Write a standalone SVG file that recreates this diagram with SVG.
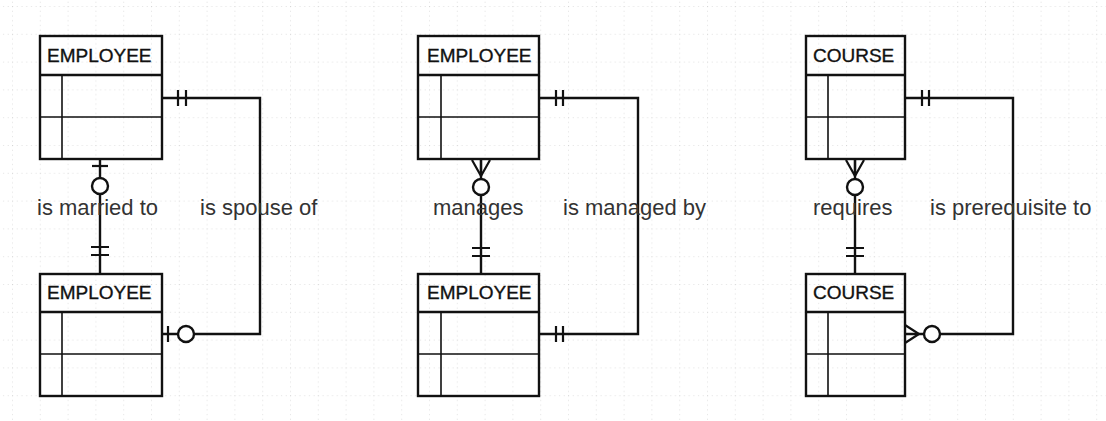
<svg xmlns="http://www.w3.org/2000/svg" width="1106" height="421" viewBox="0 0 1106 421">
<defs>
<pattern id="grid" x="12" y="6" width="27.8" height="27.8" patternUnits="userSpaceOnUse">
<path d="M0 0H27.8M0 0V27.8" fill="none" stroke="#b8b8b8" stroke-width="0.7" stroke-dasharray="1.2 3.5"/>
</pattern>
<style>
.box{fill:none;stroke:#111;stroke-width:2.4}
.ln{fill:none;stroke:#111;stroke-width:1.6}
.cn{fill:none;stroke:#111;stroke-width:2.4}
.mk{fill:none;stroke:#111;stroke-width:2.2}
.ci{fill:#fff;stroke:#111;stroke-width:2.4}
.hd{font-family:"Liberation Sans",Arial,sans-serif;font-size:19px;fill:#111;stroke:#111;stroke-width:0.35}
.lb{font-family:"Liberation Sans",Arial,sans-serif;font-size:22px;fill:#333}
</style>
</defs>
<rect width="1106" height="421" fill="#fff"/>
<rect width="1106" height="421" fill="url(#grid)"/>

<g id="connectors">
<!-- left group -->
<path class="cn" d="M162 98H260V334H162"/>
<path class="mk" d="M178 90V106M186 90V106"/>
<path class="mk" d="M168 326V342"/>
<circle class="ci" cx="186" cy="334" r="8"/>
<path class="cn" d="M100 159V274"/>
<path class="mk" d="M92 166H108"/>
<circle class="ci" cx="100" cy="186" r="8"/>
<path class="mk" d="M91 247H109M91 255H109"/>

<!-- middle group -->
<path class="cn" d="M539 98H638V334H539"/>
<path class="mk" d="M556 90V106M563 90V106"/>
<path class="mk" d="M556 326V342M563 326V342"/>
<path class="cn" d="M481 159V275"/>
<path class="mk" d="M472 160L481 176L490 160M481 160V176"/>
<circle class="ci" cx="481" cy="187" r="8"/>
<path class="mk" d="M472 248H490M472 256H490"/>

<!-- right group -->
<path class="cn" d="M905 98H1013V334H905"/>
<path class="mk" d="M922 90V106M929 90V106"/>
<path class="mk" d="M905 325L919 334L905 343M905 334H919"/>
<circle class="ci" cx="932" cy="334" r="8"/>
<path class="cn" d="M855 159V275"/>
<path class="mk" d="M846 160L855 176L864 160M855 160V176"/>
<circle class="ci" cx="855" cy="187" r="8"/>
<path class="mk" d="M846 248H864M846 256H864"/>
</g>

<g id="labels">
<text class="lb" x="37" y="215">is married to</text>
<text class="lb" x="200" y="215">is spouse of</text>
<text class="lb" x="433" y="215">manages</text>
<text class="lb" x="563" y="215">is managed by</text>
<text class="lb" x="813" y="215">requires</text>
<text class="lb" x="930" y="215">is prerequisite to</text>
</g>

<g id="employee1">
<rect x="40" y="36" width="122" height="123" fill="#fff" class="box"/>
<path class="box" d="M40 75H162"/>
<path class="ln" d="M40 117H162M62 75V159"/>
<text class="hd" x="47" y="62">EMPLOYEE</text>
</g>
<g id="employee2">
<rect x="40" y="274" width="122" height="122" fill="#fff" class="box"/>
<path class="box" d="M40 312H162"/>
<path class="ln" d="M40 354H162M62 312V396"/>
<text class="hd" x="47" y="299">EMPLOYEE</text>
</g>
<g id="employee3">
<rect x="418" y="36" width="121" height="123" fill="#fff" class="box"/>
<path class="box" d="M418 75H539"/>
<path class="ln" d="M418 117H539M441 75V159"/>
<text class="hd" x="427" y="62">EMPLOYEE</text>
</g>
<g id="employee4">
<rect x="418" y="274" width="121" height="122" fill="#fff" class="box"/>
<path class="box" d="M418 312H539"/>
<path class="ln" d="M418 354H539M441 312V396"/>
<text class="hd" x="427" y="299">EMPLOYEE</text>
</g>
<g id="course1">
<rect x="806" y="36" width="99" height="123" fill="#fff" class="box"/>
<path class="box" d="M806 75H905"/>
<path class="ln" d="M806 117H905M828 75V159"/>
<text class="hd" x="813" y="62">COURSE</text>
</g>
<g id="course2">
<rect x="806" y="274" width="99" height="122" fill="#fff" class="box"/>
<path class="box" d="M806 312H905"/>
<path class="ln" d="M806 354H905M828 312V396"/>
<text class="hd" x="813" y="299">COURSE</text>
</g>
</svg>
